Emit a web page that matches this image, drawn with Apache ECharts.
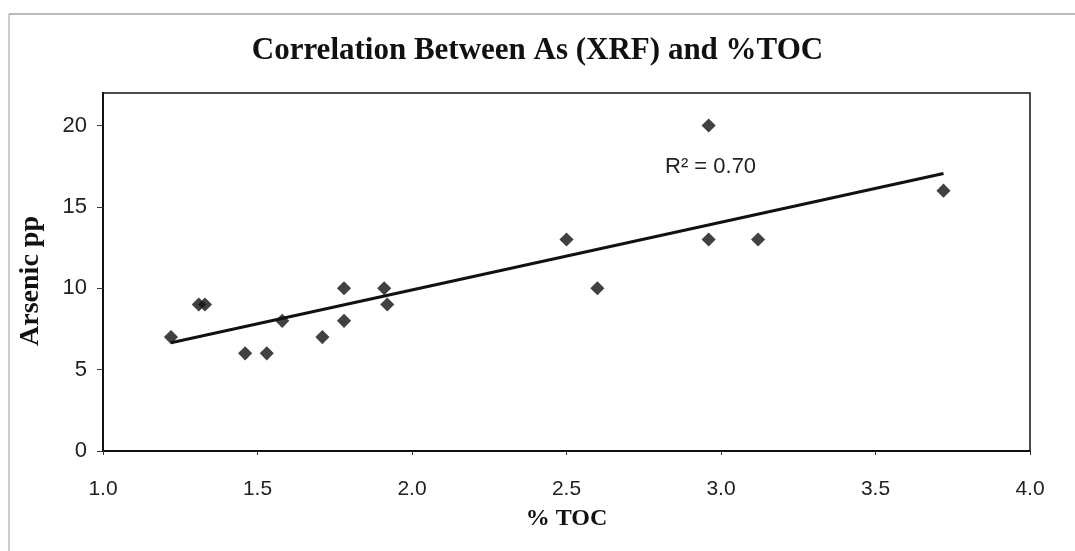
<!DOCTYPE html>
<html>
<head>
<meta charset="utf-8">
<script src="https://cdn.jsdelivr.net/npm/echarts@6/dist/echarts.min.js"></script>
<style>
  html, body { margin: 0; padding: 0; background: #fff; }
  #chart { width: 1075px; height: 551px; }
</style>
</head>
<body>
<div id="chart"></div>
<script>
const chartTitle = 'Correlation Between As (XRF) and %TOC';
const xAxisTitle = '% TOC';
const yAxisTitle = 'Arsenic pp';
const rSquaredLabel = 'R\u00B2 = 0.70';

const tocPercent = [1.22, 1.31, 1.33, 1.46, 1.53, 1.58, 1.71, 1.78, 1.78, 1.91, 1.92, 2.50, 2.60, 2.96, 2.96, 3.12, 3.72];
const arsenicPpm = [7, 9, 9, 6, 6, 8, 7, 10, 8, 10, 9, 13, 10, 20, 13, 13, 16];

const xTicks = [1.0, 1.5, 2.0, 2.5, 3.0, 3.5, 4.0];
const yTicks = [0, 5, 10, 15, 20];

// least-squares linear trendline computed from the data
const n = tocPercent.length;
const mx = tocPercent.reduce((a, b) => a + b, 0) / n;
const my = arsenicPpm.reduce((a, b) => a + b, 0) / n;
let sxy = 0, sxx = 0;
for (let i = 0; i < n; i++) {
  sxy += (tocPercent[i] - mx) * (arsenicPpm[i] - my);
  sxx += (tocPercent[i] - mx) * (tocPercent[i] - mx);
}
const slope = sxy / sxx;
const intercept = my - slope * mx;
const xMin = Math.min(...tocPercent), xMax = Math.max(...tocPercent);
const trend = [[xMin, intercept + slope * xMin], [xMax, intercept + slope * xMax]];

const points = tocPercent.map((x, i) => [x, arsenicPpm[i]]);

const chart = echarts.init(document.getElementById('chart'), null, { renderer: 'canvas' });
chart.setOption({
  animation: false,
  backgroundColor: '#fff',
  title: {
    text: chartTitle,
    left: 'center',
    top: 30,
    textStyle: { fontFamily: 'Liberation Serif', fontWeight: 'bold', fontSize: 31, color: '#111' }
  },
  grid: {
    left: 103, right: 45, top: 93, bottom: 100,
    show: true, borderColor: '#111', borderWidth: 1.5, backgroundColor: '#fff'
  },
  xAxis: {
    type: 'value',
    min: xTicks[0], max: xTicks[xTicks.length - 1], interval: 0.5,
    name: xAxisTitle, nameLocation: 'middle', nameGap: 56,
    nameTextStyle: { fontFamily: 'Liberation Serif', fontWeight: 'bold', fontSize: 24, color: '#111' },
    axisLine: { show: true, onZero: false, lineStyle: { color: '#111', width: 2 } },
    axisTick: { show: true, inside: false, length: 4, lineStyle: { color: '#333' } },
    splitLine: { show: false },
    axisLabel: {
      margin: 28, fontFamily: 'Liberation Sans', fontSize: 21, color: '#222',
      formatter: v => v.toFixed(1)
    }
  },
  yAxis: {
    type: 'value',
    min: 0, max: 22, interval: 5,
    name: yAxisTitle, nameLocation: 'middle', nameGap: 58, nameRotate: 90,
    nameTextStyle: { fontFamily: 'Liberation Serif', fontWeight: 'bold', fontSize: 28, color: '#111', padding: [0, 18, 0, 0] },
    axisLine: { show: true, onZero: false, lineStyle: { color: '#111', width: 2 } },
    axisTick: { show: true, length: 6, lineStyle: { color: '#333' } },
    splitLine: { show: false },
    axisLabel: {
      margin: 16, fontFamily: 'Liberation Sans', fontSize: 22, color: '#222',
      showMaxLabel: false,
      formatter: v => (yTicks.indexOf(v) >= 0 ? String(v) : '')
    }
  },
  graphic: [
    { type: 'line', shape: { x1: 9, y1: 14, x2: 1075, y2: 14 }, style: { stroke: '#777', lineWidth: 1 } },
    { type: 'line', shape: { x1: 9, y1: 14, x2: 9, y2: 551 }, style: { stroke: '#999', lineWidth: 1 } },
    { type: 'text', left: 665, top: 156, style: { text: rSquaredLabel, font: '22px "Liberation Sans"', fill: '#222' } }
  ],
  series: [
    {
      type: 'line',
      data: trend,
      showSymbol: false,
      symbol: 'none',
      lineStyle: { color: '#111', width: 3 },
      z: 2
    },
    {
      type: 'scatter',
      data: points,
      symbol: 'rect',
      symbolSize: 10,
      symbolRotate: 45,
      itemStyle: { color: '#111' },
      z: 3
    }
  ]
});
</script>
</body>
</html>
